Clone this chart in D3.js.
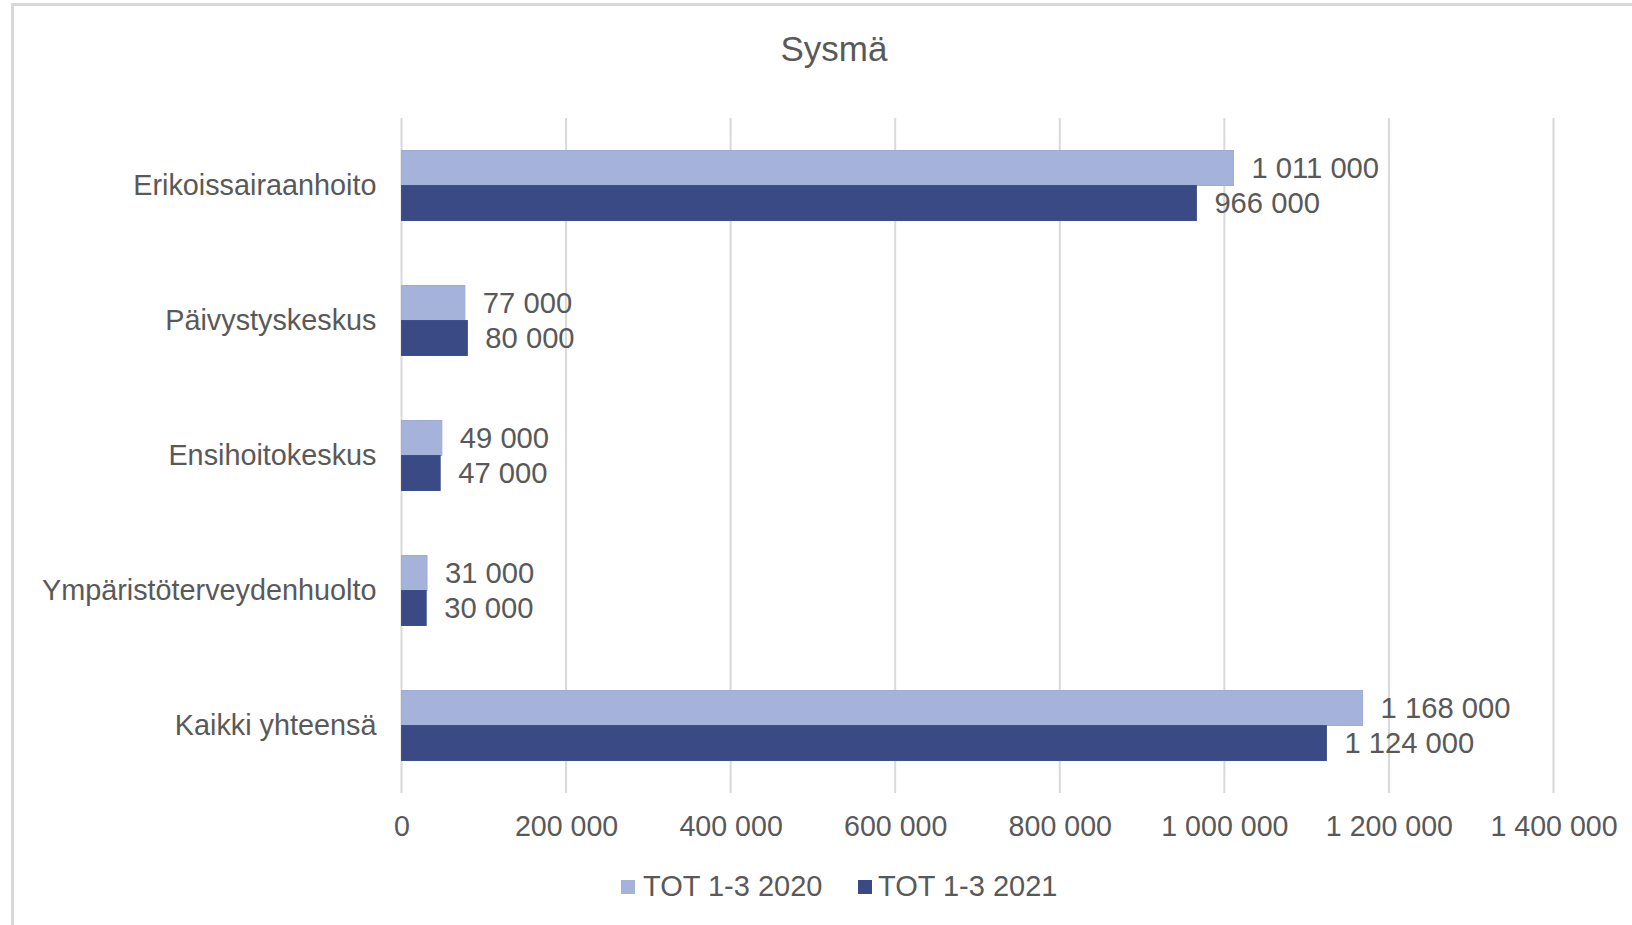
<!DOCTYPE html>
<html>
<head>
<meta charset="utf-8">
<script src="https://cdn.jsdelivr.net/npm/d3@7"></script>
<style>
  html, body { margin: 0; padding: 0; background: #fff; }
  svg { display: block; }
  text { font-family: "Liberation Sans", Arial, sans-serif; fill: #595959; }
</style>
</head>
<body>
<svg id="chart" width="1632" height="925"></svg>
<script>
// ---- Data ----
const title = "Sysmä";
const categories = ["Erikoissairaanhoito", "Päivystyskeskus", "Ensihoitokeskus", "Ympäristöterveydenhuolto", "Kaikki yhteensä"];
const seriesNames = ["TOT 1-3 2020", "TOT 1-3 2021"];
const values2020 = [1011000, 77000, 49000, 31000, 1168000];
const values2021 = [966000, 80000, 47000, 30000, 1124000];
const tickValues = [0, 200000, 400000, 600000, 800000, 1000000, 1200000, 1400000];
const colors = ["#A5B2DA", "#394A84"];

// ---- Layout ----
const W = 1632, H = 925;
const plot = { left: 401.5, right: 1553.5, top: 118, bottom: 793 };

const svg = d3.select("#chart");
const locale = d3.formatLocale({ decimal: ",", thousands: "\u00a0", grouping: [3], currency: ["", "€"] });
const fmt = locale.format(",");

const x = d3.scaleLinear().domain([0, 1400000]).range([plot.left, plot.right]);
const y = d3.scaleBand().domain(categories).range([plot.top, plot.bottom]);
const barH = 35;

// outer border
svg.append("path")
  .attr("d", `M12.5,${H} L12.5,4.5 L${W},4.5`)
  .attr("fill", "none").attr("stroke", "#d9d9d9").attr("stroke-width", 3);

// title
svg.append("text")
  .attr("x", 834).attr("y", 61)
  .attr("text-anchor", "middle")
  .style("font-size", "35px")
  .text(title);

// gridlines
svg.append("g").selectAll("line").data(tickValues).join("line")
  .attr("x1", d => x(d)).attr("x2", d => x(d))
  .attr("y1", plot.top).attr("y2", plot.bottom)
  .attr("stroke", "#d9d9d9").attr("stroke-width", 2);

// x axis tick labels via d3 axis
const xAxis = d3.axisBottom(x).tickValues(tickValues).tickFormat(d => fmt(d)).tickSize(0).tickPadding(0);
const gx = svg.append("g").attr("transform", `translate(0, 836)`).call(xAxis);
gx.select(".domain").remove();
gx.selectAll("text")
  .attr("dy", null).attr("y", 0)
  .style("font-size", "28.6px")
  .style("font-family", '"Liberation Sans", Arial, sans-serif')
  .attr("fill", "#595959");

// category labels via d3 axis
const yAxis = d3.axisLeft(y).tickSize(0).tickPadding(25);
const gy = svg.append("g").attr("transform", `translate(${plot.left}, 0)`).call(yAxis);
gy.select(".domain").remove();
gy.selectAll("text")
  .attr("dy", "0.34em")
  .style("font-size", "28.8px")
  .style("font-family", '"Liberation Sans", Arial, sans-serif')
  .attr("fill", "#595959");

// bars
const seriesData = [values2020, values2021];
seriesData.forEach((vals, s) => {
  const g = svg.append("g");
  const yOff = c => y(c) + y.bandwidth() / 2 - barH + s * barH;
  g.selectAll("rect").data(categories).join("rect")
    .attr("x", x(0))
    .attr("y", c => yOff(c))
    .attr("width", (c, i) => x(vals[i]) - x(0))
    .attr("height", barH)
    .attr("fill", colors[s])
    .attr("stroke", s === 0 ? "#9DABD6" : "#3F5089")
    .attr("stroke-width", 1);
  g.selectAll("text").data(categories).join("text")
    .attr("x", (c, i) => x(vals[i]) + 18)
    .attr("y", c => yOff(c) + barH / 2)
    .attr("dy", "0.35em")
    .style("font-size", "29.2px")
    .text((c, i) => fmt(vals[i]));
});

// legend
const legendX = [621, 858];
const lg = svg.append("g");
seriesNames.forEach((name, i) => {
  lg.append("rect")
    .attr("x", legendX[i]).attr("y", 880)
    .attr("width", 14).attr("height", 14)
    .attr("fill", colors[i]);
  lg.append("text")
    .attr("x", legendX[i] + (i === 0 ? 22 : 20)).attr("y", 896)
    .style("font-size", "29px")
    .text(name);
});
</script>
</body>
</html>
